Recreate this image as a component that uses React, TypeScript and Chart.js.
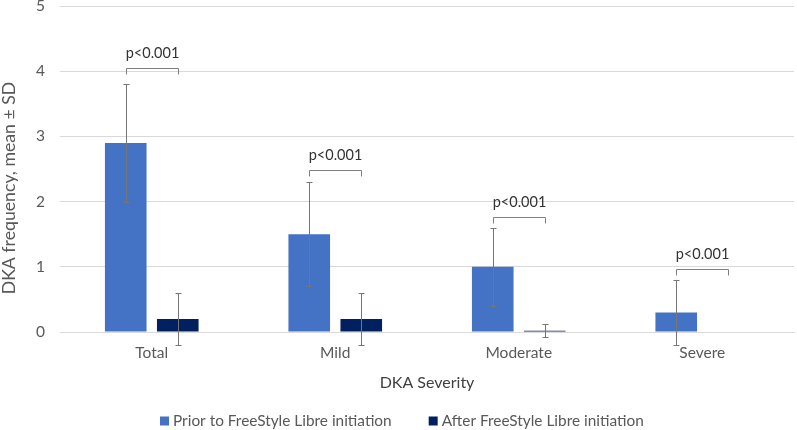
import React, { useEffect, useRef } from "react";
import { Chart, registerables } from "chart.js";

Chart.register(...registerables);

const categories = ["Total", "Mild", "Moderate", "Severe"];
const seriesNames = ["Prior to FreeStyle Libre initiation", "After FreeStyle Libre initiation"];
const priorMeans = [2.9, 1.5, 1.0, 0.3];
const priorSD = [0.9, 0.8, 0.6, 0.5];
const afterMeans = [0.2, 0.2, 0.02, 0];
const afterSD = [0.4, 0.4, 0.1, 0];
const pLabels = ["p<0.001", "p<0.001", "p<0.001", "p<0.001"];
const bracketLevels = [4.05, 2.48, 1.77, 0.97];
const yTicks = [0, 1, 2, 3, 4, 5];
const yTitle = "DKA frequency, mean ± SD";
const xTitle = "DKA Severity";

const FONT = "Lato";
const PRIOR_COLOR = "#4472C4";
const AFTER_COLOR = "#002060";
const TEXT = "#595959";
const GRID = "#D9D9D9";

const errorBarPlugin = {
  id: "errorBars",
  afterDatasetsDraw(chart: any) {
    const ctx = chart.ctx;
    const y = chart.scales.y;
    const sds = [priorSD, afterSD];
    const means = [priorMeans, afterMeans];
    ctx.save();
    ctx.strokeStyle = "#767676";
    ctx.lineWidth = 1;
    for (let d = 0; d < 2; d++) {
      const meta = chart.getDatasetMeta(d);
      meta.data.forEach((bar: any, j: number) => {
        const sd = sds[d][j];
        if (!sd) return;
        const x = Math.round(bar.x) + 0.5;
        const yt = Math.round(y.getPixelForValue(means[d][j] + sd)) + 0.5;
        const yb = Math.round(y.getPixelForValue(means[d][j] - sd)) + 0.5;
        ctx.beginPath();
        ctx.moveTo(x, yt);
        ctx.lineTo(x, yb);
        ctx.moveTo(x - 3, yt);
        ctx.lineTo(x + 3, yt);
        ctx.moveTo(x - 3, yb);
        ctx.lineTo(x + 3, yb);
        ctx.stroke();
      });
    }
    ctx.restore();
  },
};

const bracketPlugin = {
  id: "brackets",
  afterDatasetsDraw(chart: any) {
    const ctx = chart.ctx;
    const y = chart.scales.y;
    const m0 = chart.getDatasetMeta(0);
    const m1 = chart.getDatasetMeta(1);
    ctx.save();
    ctx.strokeStyle = "#7F7F7F";
    ctx.lineWidth = 1;
    ctx.fillStyle = "#333333";
    ctx.font = `14.5px ${FONT}`;
    ctx.textAlign = "center";
    ctx.textBaseline = "alphabetic";
    bracketLevels.forEach((lvl, j) => {
      const x1 = Math.round(m0.data[j].x) + 0.5;
      const x2 = Math.round(m1.data[j].x) + 0.5;
      const yy = Math.round(y.getPixelForValue(lvl)) + 0.5;
      ctx.beginPath();
      ctx.moveTo(x1, yy + 6);
      ctx.lineTo(x1, yy);
      ctx.lineTo(x2, yy);
      ctx.lineTo(x2, yy + 6);
      ctx.stroke();
      ctx.fillText(pLabels[j], (x1 + x2) / 2, yy - 11);
    });
    ctx.restore();
  },
};

const titleLegendPlugin = {
  id: "titleLegend",
  afterDraw(chart: any) {
    const ctx = chart.ctx;
    ctx.save();
    // y axis title
    ctx.fillStyle = TEXT;
    ctx.font = `17.7px ${FONT}`;
    ctx.textAlign = "center";
    ctx.textBaseline = "middle";
    ctx.translate(9, 188);
    ctx.rotate(-Math.PI / 2);
    ctx.fillText(yTitle, 0, 0);
    ctx.restore();

    // legend
    ctx.save();
    ctx.font = `15.4px ${FONT}`;
    ctx.textBaseline = "middle";
    ctx.textAlign = "left";
    const box = 9;
    const gap = 4;
    const itemGap = 37;
    const ds = chart.data.datasets;
    const widths = ds.map((d: any) => ctx.measureText(d.label).width);
    const total = widths.reduce((a: number, w: number) => a + box + gap + w, 0) + itemGap * (ds.length - 1);
    let x = Math.round(402 - total / 2);
    const cy = 421;
    ds.forEach((d: any, i: number) => {
      ctx.fillStyle = d.backgroundColor;
      ctx.fillRect(x, cy - 4.5, box, box);
      x += box + gap;
      ctx.fillStyle = TEXT;
      ctx.fillText(d.label, x, cy);
      x += widths[i] + itemGap;
    });
    ctx.restore();
  },
};

export default function App() {
  const ref = useRef<HTMLCanvasElement | null>(null);
  useEffect(() => {
    document.body.style.margin = "0";
    const chart = new Chart(ref.current as HTMLCanvasElement, {
      type: "bar",
      data: {
        labels: categories,
        datasets: [
          {
            label: seriesNames[0],
            data: priorMeans,
            backgroundColor: PRIOR_COLOR,
            categoryPercentage: 0.567,
            barPercentage: 0.8,
          },
          {
            label: seriesNames[1],
            data: afterMeans,
            backgroundColor: AFTER_COLOR,
            categoryPercentage: 0.567,
            barPercentage: 0.8,
          },
        ],
      },
      options: {
        animation: false,
        responsive: false,
        layout: { padding: { top: 0, right: 3, bottom: 36, left: 0 } },
        plugins: {
          legend: { display: false },
          tooltip: { enabled: false },
        },
        scales: {
          x: {
            grid: { display: false, drawTicks: false },
            border: { display: true, color: GRID },
            ticks: { color: TEXT, font: { family: FONT, size: 15.5 }, padding: 12 },
            title: {
              display: true,
              text: xTitle,
              color: "#404040",
              font: { family: FONT, size: 16 },
              padding: { top: 0, bottom: 2 },
            },
            afterFit(scale: any) {
              scale.height = 62;
            },
          },
          y: {
            min: 0,
            max: 5,
            afterBuildTicks(scale: any) {
              scale.ticks = yTicks.map((v) => ({ value: v }));
            },
            grid: { color: GRID, drawTicks: false },
            border: { display: false },
            ticks: { color: TEXT, font: { family: FONT, size: 15.5 }, padding: 15 },
            afterFit(scale: any) {
              scale.width = 60;
              scale.paddingTop = 6;
              scale.paddingBottom = 0;
            },
          },
        },
      },
      plugins: [errorBarPlugin, bracketPlugin, titleLegendPlugin],
    });
    return () => chart.destroy();
  }, []);
  return (
    <div style={{ position: "absolute", left: 0, top: 0, width: 797, height: 430, background: "#fff" }}>
      <canvas ref={ref} width={797} height={430} style={{ width: 797, height: 430 }} />
    </div>
  );
}
